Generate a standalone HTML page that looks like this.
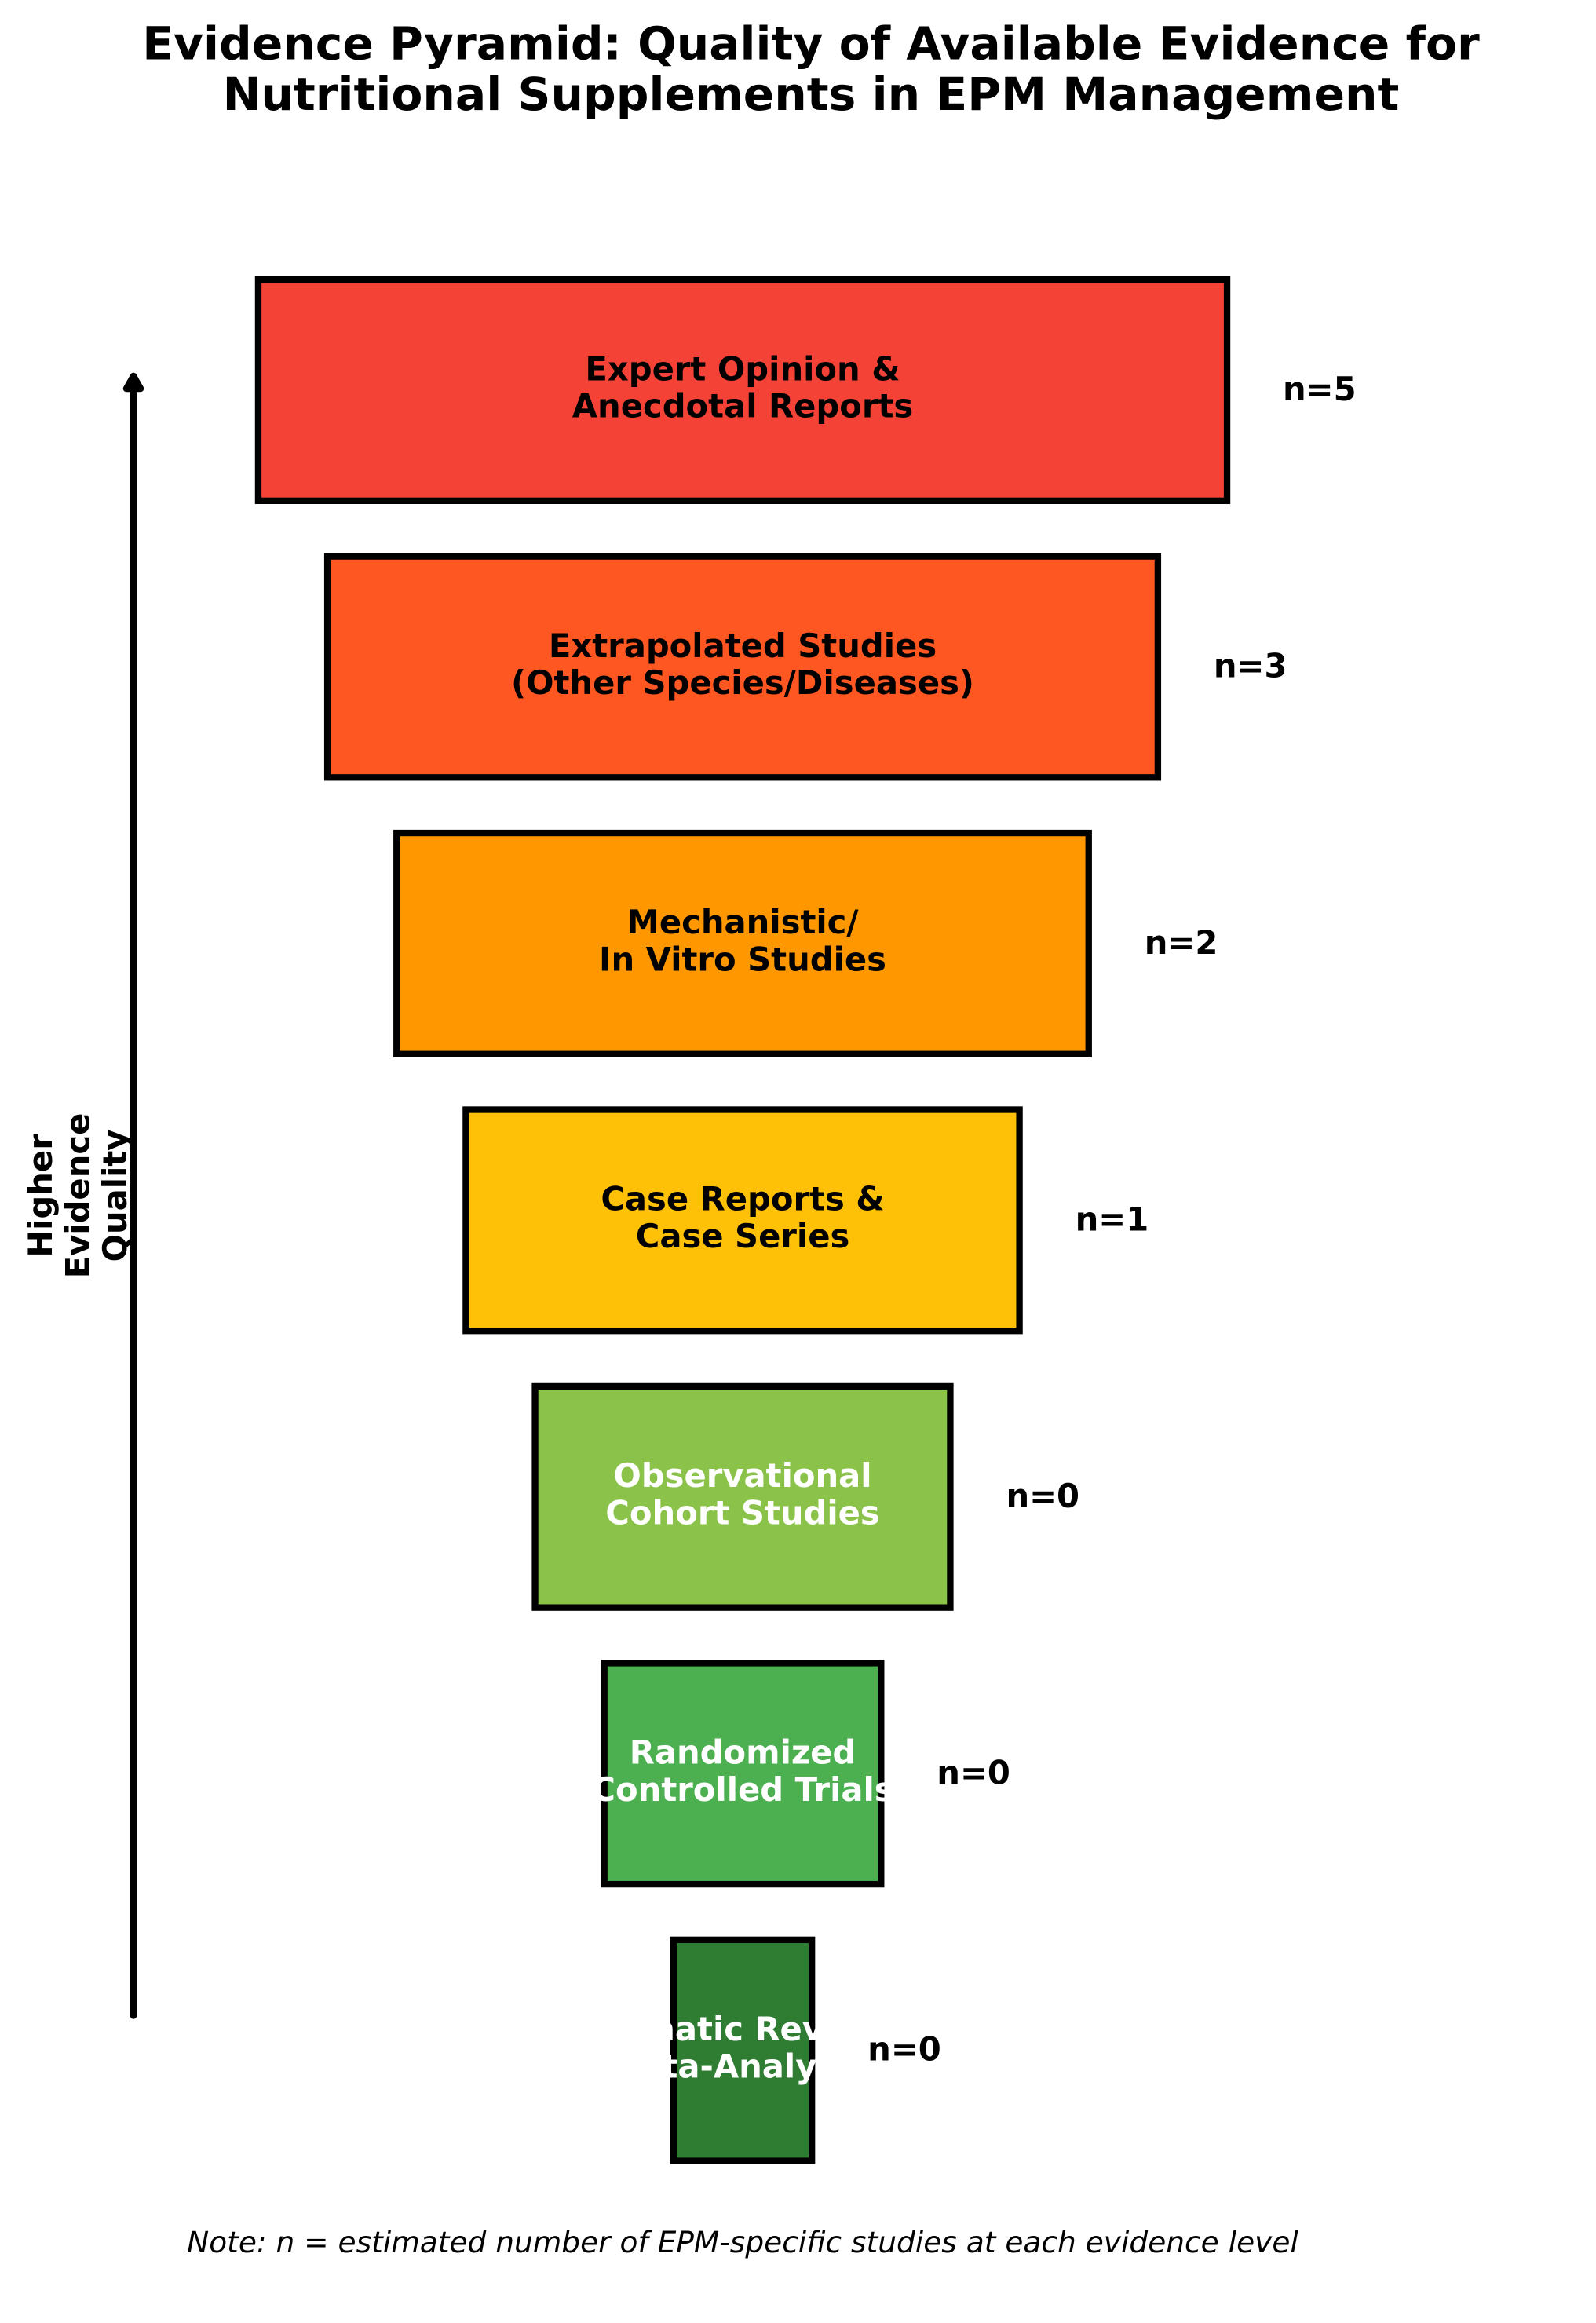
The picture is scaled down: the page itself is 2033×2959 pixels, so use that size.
<!DOCTYPE html>
<html>
<head>
<meta charset="utf-8">
<style>
  html, body { margin: 0; padding: 0; background: #ffffff; }
  body { width: 2033px; height: 2959px; overflow: hidden; }
  svg { display: block; }
  .t { font-family: "DejaVu Sans", "Liberation Sans", sans-serif; font-weight: bold; }
</style>
</head>
<body>
<svg width="2033" height="2959" viewBox="0 0 2033 2959" xmlns="http://www.w3.org/2000/svg">
  <rect x="0" y="0" width="2033" height="2959" fill="#ffffff"/>

  <!-- Title -->
  <text class="t" x="1033" y="75.7" font-size="58.3" text-anchor="middle" fill="#000">Evidence Pyramid: Quality of Available Evidence for</text>
  <text class="t" x="1033" y="140" font-size="58.3" text-anchor="middle" fill="#000">Nutritional Supplements in EPM Management</text>

  <!-- Arrow -->
  <line x1="170" y1="496" x2="170" y2="2567.5" stroke="#000" stroke-width="8.5" stroke-linecap="round"/>
  <polygon points="170,479 161,495 179,495" fill="#000" stroke="#000" stroke-width="8.5" stroke-linejoin="round"/>

  <!-- Rotated label -->
  <text class="t" font-size="41.7" text-anchor="middle" fill="#000" transform="translate(66,1523) rotate(-90)">Higher</text>
  <text class="t" font-size="41.7" text-anchor="middle" fill="#000" transform="translate(113.5,1523) rotate(-90)">Evidence</text>
  <text class="t" font-size="41.7" text-anchor="middle" fill="#000" transform="translate(161,1523) rotate(-90)">Quality</text>

  <!-- Level 0 -->
  <rect x="328.95" y="356.15" width="1234.1" height="281.7" fill="#F44336" stroke="#000" stroke-width="8.33"/>
  <text class="t" x="946" y="484.3" font-size="41.7" text-anchor="middle" fill="#000">Expert Opinion &amp;</text>
  <text class="t" x="946" y="531.7" font-size="41.7" text-anchor="middle" fill="#000">Anecdotal Reports</text>
  <text class="t" x="1634" y="510" font-size="41.7" fill="#000">n=5</text>

  <!-- Level 1 -->
  <rect x="417.1" y="708.6" width="1057.8" height="281.7" fill="#FF5722" stroke="#000" stroke-width="8.33"/>
  <text class="t" x="946" y="836.75" font-size="41.7" text-anchor="middle" fill="#000">Extrapolated Studies</text>
  <text class="t" x="946" y="884.15" font-size="41.7" text-anchor="middle" fill="#000">(Other Species/Diseases)</text>
  <text class="t" x="1545.85" y="862.45" font-size="41.7" fill="#000">n=3</text>

  <!-- Level 2 -->
  <rect x="505.25" y="1061.05" width="881.5" height="281.7" fill="#FF9800" stroke="#000" stroke-width="8.33"/>
  <text class="t" x="946" y="1189.2" font-size="41.7" text-anchor="middle" fill="#000">Mechanistic/</text>
  <text class="t" x="946" y="1236.6" font-size="41.7" text-anchor="middle" fill="#000">In Vitro Studies</text>
  <text class="t" x="1457.75" y="1214.9" font-size="41.7" fill="#000">n=2</text>

  <!-- Level 3 -->
  <rect x="593.4" y="1413.5" width="705.2" height="281.7" fill="#FFC107" stroke="#000" stroke-width="8.33"/>
  <text class="t" x="946" y="1541.65" font-size="41.7" text-anchor="middle" fill="#000">Case Reports &amp;</text>
  <text class="t" x="946" y="1589.05" font-size="41.7" text-anchor="middle" fill="#000">Case Series</text>
  <text class="t" x="1369.6" y="1567.35" font-size="41.7" fill="#000">n=1</text>

  <!-- Level 4 -->
  <rect x="681.55" y="1765.95" width="528.9" height="281.7" fill="#8BC34A" stroke="#000" stroke-width="8.33"/>
  <text class="t" x="946" y="1894.1" font-size="41.7" text-anchor="middle" fill="#fff">Observational</text>
  <text class="t" x="946" y="1941.5" font-size="41.7" text-anchor="middle" fill="#fff">Cohort Studies</text>
  <text class="t" x="1281.45" y="1919.8" font-size="41.7" fill="#000">n=0</text>

  <!-- Level 5 -->
  <rect x="769.7" y="2118.4" width="352.6" height="281.7" fill="#4CAF50" stroke="#000" stroke-width="8.33"/>
  <text class="t" x="946" y="2246.55" font-size="41.7" text-anchor="middle" fill="#fff">Randomized</text>
  <text class="t" x="946" y="2293.95" font-size="41.7" text-anchor="middle" fill="#fff">Controlled Trials</text>
  <text class="t" x="1193.3" y="2272.25" font-size="41.7" fill="#000">n=0</text>

  <!-- Level 6 -->
  <rect x="857.85" y="2470.85" width="176.3" height="281.7" fill="#2E7D32" stroke="#000" stroke-width="8.33"/>
  <text class="t" x="946" y="2599" font-size="41.7" text-anchor="middle" fill="#fff">Systematic Reviews &amp;</text>
  <text class="t" x="946" y="2646.4" font-size="41.7" text-anchor="middle" fill="#fff">Meta-Analyses</text>
  <text class="t" x="1105.15" y="2624.7" font-size="41.7" fill="#000">n=0</text>

  <!-- Note -->
  <text x="946" y="2869" font-size="37.5" text-anchor="middle" fill="#000" font-family="'DejaVu Sans', 'Liberation Sans', sans-serif" font-style="oblique">Note: n = estimated number of EPM-specific studies at each evidence level</text>
</svg>
</body>
</html>
